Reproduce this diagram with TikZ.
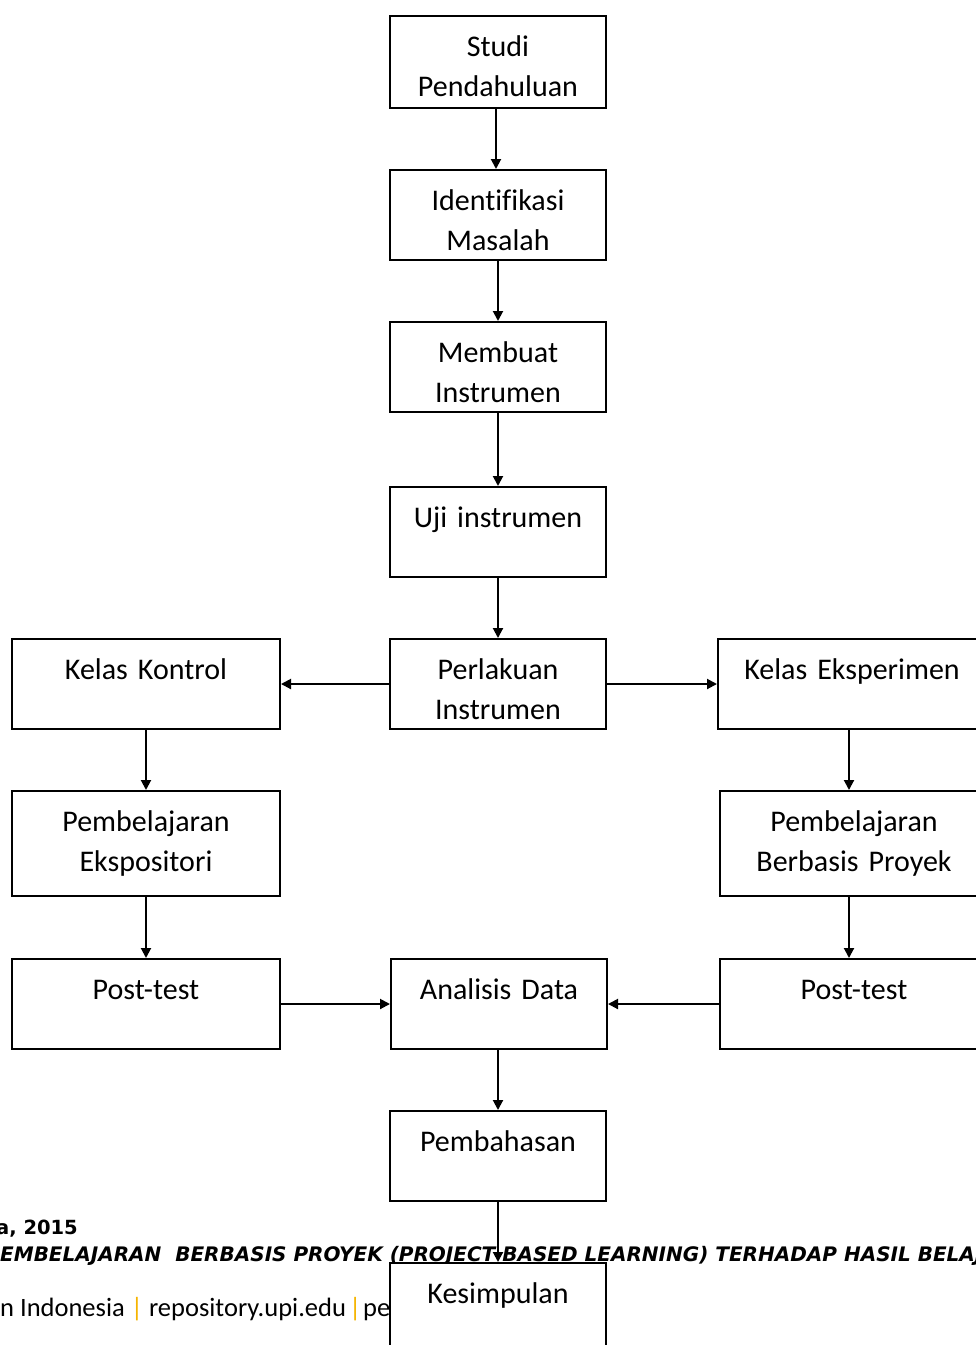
\documentclass[tikz,border=0pt]{standalone}
\usepackage{fontspec}
\usetikzlibrary{arrows.meta}
\newfontfamily\boxfont{Carlito}[Ligatures=NoCommon]
\newfontfamily\footfont{DejaVu Sans}
\definecolor{barcol}{RGB}{245,180,0}
\tikzset{
  bx/.style={draw, line width=2pt, inner sep=0pt, anchor=north west,
    text width=216pt, align=center, text height=40pt, text depth=50pt,
    font={\boxfont\fontsize{30}{40}\selectfont}},
  widebx/.style={text width=268pt},
  arr/.style={line width=2pt, -{Triangle[length=10pt,width=10pt]}},
  foot/.style={inner sep=0pt}
}
\begin{document}
\begin{tikzpicture}[x=1pt,y=-1pt]
\useasboundingbox (0,0) rectangle (976,1345);
% footer
\node[foot, anchor=base east] (f1) at (78,1234) {\footfont\bfseries\fontsize{19.5}{20}\selectfont a, 2015};
\node[foot, anchor=base west] (f2) at (0,1261) {\footfont\bfseries\itshape\fontsize{20}{20}\selectfont EMBELAJARAN\ \ BERBASIS PROYEK (PROJECT BASED LEARNING) TERHADAP HASIL BELAJA};
\node[foot, anchor=base west] (f3) at (0,1316) {\boxfont\fontsize{26.5}{28}\selectfont n Indonesia \textcolor{barcol}{|} repository.upi.edu\hspace{3pt}\textcolor{barcol}{|}\hspace{2pt}pe};
% boxes
\node[bx, text depth=52pt] (studi) at (389,15) {Studi\\Pendahuluan};
\node[bx] (ident) at (389,169) {Identifikasi\\Masalah};
\node[bx] (membuat) at (389,321) {Membuat\\Instrumen};
\node[bx] (uji) at (389,486) {Uji instrumen};
\node[bx] (perl) at (389,638) {Perlakuan\\Instrumen};
\node[bx, widebx] (kontrol) at (11,638) {Kelas Kontrol};
\node[bx, widebx] (eksp) at (717,638) {Kelas Eksperimen};
\node[bx, widebx, text depth=65pt] (pemeks) at (11,790) {Pembelajaran\\Ekspositori};
\node[bx, widebx, text depth=65pt] (pembp) at (719,790) {Pembelajaran\\Berbasis Proyek};
\node[bx, widebx] (postl) at (11,958) {Post-test};
\node[bx] (anal) at (390,958) {Analisis Data};
\node[bx, widebx] (postr) at (719,958) {Post-test};
\node[bx] (bahas) at (389,1110) {Pembahasan};
\node[bx, fill=white] (kesimp) at (389,1262) {Kesimpulan};
% connectors
\draw[arr] ([xshift=-2pt]studi.south) -- ([xshift=-2pt]ident.north);
\draw[arr] (ident.south) -- (membuat.north);
\draw[arr] (membuat.south) -- (uji.north);
\draw[arr] (uji.south) -- (perl.north);
\draw[arr] (perl.west) -- (kontrol.east);
\draw[arr] (perl.east) -- (eksp.west);
\draw[arr] (kontrol.south) -- (pemeks.north);
\draw[arr] ([xshift=-3pt]eksp.south) -- ([xshift=-5pt]pembp.north);
\draw[arr] (pemeks.south) -- (postl.north);
\draw[arr] ([xshift=-5pt]pembp.south) -- ([xshift=-5pt]postr.north);
\draw[arr] (postl.east) -- (anal.west);
\draw[arr] (postr.west) -- (anal.east);
\draw[arr] ([xshift=-1pt]anal.south) -- (bahas.north);
\draw[arr] (bahas.south) -- (kesimp.north);
\end{tikzpicture}
\end{document}
